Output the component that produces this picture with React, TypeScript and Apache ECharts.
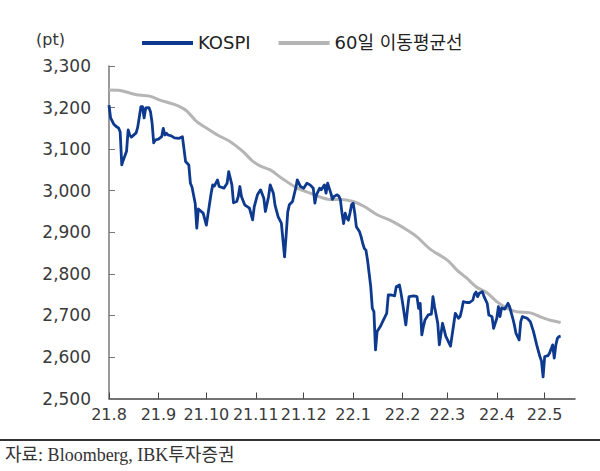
import React, { useEffect, useRef } from "react";
import * as echarts from "echarts";

// Day offsets are counted from 2021-08-01.
const BASE_DATE = Date.UTC(2021, 7, 1);

// Month tick labels (yy.m)
const monthLabels = ["21.8", "21.9", "21.10", "21.11", "21.12", "22.1", "22.2", "22.3", "22.4", "22.5"];

// KOSPI close
const kospiDays = [
  0, 1, 3, 5, 6, 7, 8, 9, 11, 12,
  13, 14, 17, 18, 20, 21, 22, 23, 25, 26,
  27, 28, 29, 31, 33, 34, 35, 36, 37, 39,
  41, 44, 46, 48, 50, 51, 52, 54, 55, 56,
  59, 61, 64, 65, 66, 68, 69, 72, 74, 75,
  77, 78, 80, 81, 82, 83, 85, 88, 90, 91,
  93, 95, 97, 98, 100, 101, 103, 104, 106, 108,
  110, 111, 112, 113, 115, 117, 118, 120, 122, 124,
  126, 128, 129, 130, 132, 133, 135, 136, 137, 139,
  140, 141, 143, 144, 145, 146, 147, 148, 149, 150,
  151, 152, 153, 154, 155, 157, 158, 159, 160, 161,
  162, 163, 164, 165, 166, 167, 168, 170, 172, 174,
  175, 177, 179, 180, 182, 183, 184, 186, 187, 188,
  191, 193, 194, 195, 196, 197, 198, 200, 202, 203,
  204, 206, 207, 209, 211, 214, 217, 219, 220, 221,
  222, 224, 226, 228, 229, 230, 231, 232, 234, 235,
  237, 238, 240, 241, 243, 244, 245, 246, 248, 250,
  251, 253, 254, 255, 257, 258, 259, 262, 264, 266,
  268, 270, 271, 272, 273, 275, 276, 278, 279, 280,
  281, 282, 283,
];
const kospiValues = [
  3206, 3175, 3160, 3153, 3151, 3141, 3062, 3074, 3095, 3146,
  3134, 3129, 3139, 3153, 3202, 3202, 3175, 3199, 3200, 3190,
  3163, 3115, 3122, 3124, 3130, 3150, 3134, 3138, 3134, 3132,
  3127, 3126, 3130, 3070, 3062, 3018, 3009, 2970, 2910, 2956,
  2946, 2917, 2994, 3014, 3011, 3026, 3010, 3006, 3018, 3046,
  3014, 2971, 2974, 2986, 3010, 2986, 2966, 2958, 2930, 2961,
  2990, 3002, 2982, 2950, 2986, 3014, 2994, 2966, 2937, 2922,
  2841, 2893, 2949, 2966, 2974, 3006, 3026, 3010, 3006, 3018,
  3014, 3006, 2970, 2990, 3006, 3002, 3014, 2994, 3018, 2994,
  2979, 2986, 2990, 2987, 2978, 2946, 2921, 2946, 2934, 2929,
  2946, 2966, 2970, 2946, 2913, 2901, 2889, 2873, 2861, 2857,
  2833, 2801, 2769, 2717, 2709, 2617, 2661, 2673, 2689, 2705,
  2749, 2749, 2747, 2769, 2773, 2753, 2729, 2677, 2713, 2745,
  2747, 2745, 2717, 2729, 2653, 2673, 2689, 2701, 2703, 2745,
  2721, 2681, 2629, 2681, 2650, 2626, 2705, 2693, 2697, 2713,
  2733, 2731, 2731, 2737, 2751, 2756, 2745, 2753, 2757, 2745,
  2729, 2701, 2697, 2669, 2693, 2721, 2697, 2718, 2715, 2729,
  2721, 2693, 2677, 2657, 2641, 2685, 2697, 2693, 2685, 2661,
  2629, 2601, 2590, 2552, 2601, 2603, 2609, 2629, 2597, 2629,
  2645, 2649, 2650,
];

// 60-day moving average
const maDays = [
  0, 7, 13, 19, 26, 32, 38, 44, 49, 55,
  61, 68, 76, 84, 90, 95, 101, 109, 118, 126,
  132, 138, 145, 153, 160, 168, 176, 187, 193, 201,
  212, 218, 224, 230, 237, 243, 249, 255, 264, 270,
  276, 283,
];
const maValues = [
  3242, 3241, 3235, 3230, 3227, 3218, 3211, 3203, 3191, 3166,
  3151, 3134, 3118, 3094, 3071, 3059, 3050, 3028, 3006, 2994,
  2985, 2979, 2979, 2974, 2962, 2942, 2929, 2905, 2889, 2860,
  2833, 2809, 2790, 2769, 2754, 2733, 2718, 2709, 2706, 2697,
  2689, 2683,
];

const yMin = 2500;
const yMax = 3300;
const yStep = 100;
const axisEndDay = 292; // 2022-05-20

const DAY = 86400000;
const monthDays = monthLabels.map((l) => {
  const [yy, m] = l.split(".").map(Number);
  return Math.round((Date.UTC(2000 + yy, m - 1, 1) - BASE_DATE) / DAY);
});

const zip = (xs: number[], ys: number[]) =>
  xs.slice(0, Math.min(xs.length, ys.length)).map((x, i) => [x, ys[i]]);

const LABEL_FONT = "DejaVu Sans";

export default function App() {
  const ref = useRef<HTMLDivElement>(null);

  useEffect(() => {
    if (!ref.current) return;
    const chart = echarts.init(ref.current, undefined, { renderer: "svg" });
    chart.setOption({
      animation: false,
      backgroundColor: "#ffffff",
      grid: { left: 109, right: 25, top: 66, bottom: 72.5 },
      legend: {
        data: ["KOSPI", "60일 이동평균선"],
        left: 137,
        top: 29,
        icon: "rect",
        itemWidth: 51,
        itemHeight: 4,
        itemGap: 28,
        textStyle: {
          fontFamily: `${LABEL_FONT}, "Noto Sans CJK KR"`,
          fontSize: 18,
          color: "#222",
        },
      },
      xAxis: {
        type: "value",
        min: 0,
        max: axisEndDay,
        splitLine: { show: false },
        axisLine: { show: true, lineStyle: { color: "#444", width: 1.5 } },
        axisTick: {
          show: true,
          inside: true,
          length: 6,
          customValues: monthDays,
          lineStyle: { color: "#444", width: 1 },
        },
        axisLabel: {
          customValues: monthDays,
          margin: 8,
          fontFamily: LABEL_FONT,
          fontSize: 16,
          color: "#3a3a3a",
          formatter: (v: number) => {
            const i = monthDays.indexOf(Math.round(v));
            return i >= 0 ? monthLabels[i] : "";
          },
        },
      },
      yAxis: {
        type: "value",
        min: yMin,
        max: yMax,
        interval: yStep,
        splitLine: { show: false },
        axisLine: { show: true, lineStyle: { color: "#777", width: 1.5 } },
        axisTick: { show: true, inside: true, length: 6, lineStyle: { color: "#777" } },
        axisLabel: {
          margin: 18,
          fontFamily: LABEL_FONT,
          fontSize: 17,
          color: "#3a3a3a",
          formatter: (v: number) => v.toLocaleString("en-US"),
        },
      },
      series: [
        {
          name: "60일 이동평균선",
          type: "line",
          data: zip(maDays, maValues),
          showSymbol: false,
          symbol: "none",
          smooth: 0.3,
          lineStyle: { color: "#b5b5b5", width: 3 },
          itemStyle: { color: "#b5b5b5" },
        },
        {
          name: "KOSPI",
          type: "line",
          data: zip(kospiDays, kospiValues),
          showSymbol: false,
          symbol: "none",
          lineStyle: { color: "#0d3a8e", width: 2.8, join: "round" },
          itemStyle: { color: "#0d3a8e" },
        },
      ],
      graphic: [
        {
          type: "text",
          left: 36,
          top: 31,
          style: {
            text: "(pt)",
            font: `16px ${LABEL_FONT}`,
            fill: "#333",
          },
        },
        {
          type: "rect",
          shape: { x: 0, y: 439, width: 600, height: 2 },
          style: { fill: "#333" },
        },
        {
          type: "text",
          left: 5,
          top: 446,
          style: {
            text: "자료: Bloomberg, IBK투자증권",
            font: '18px "Liberation Serif", "Noto Sans CJK KR", serif',
            fill: "#333",
          },
        },
      ],
    });
    return () => chart.dispose();
  }, []);

  return (
    <div
      ref={ref}
      style={{ position: "fixed", left: 0, top: 0, width: 600, height: 471 }}
    />
  );
}
